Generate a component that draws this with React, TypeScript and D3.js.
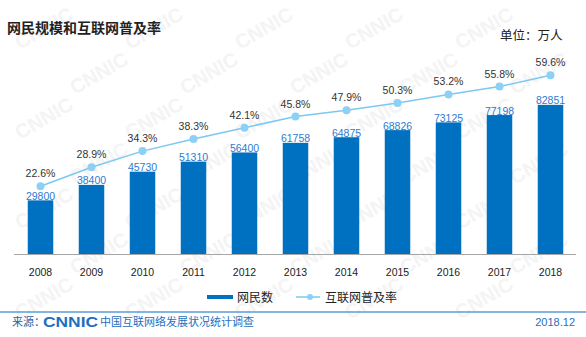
import React from "react";
import * as d3 from "d3";

const years = ["2008", "2009", "2010", "2011", "2012", "2013", "2014", "2015", "2016", "2017", "2018"];
const netizens = [29800, 38400, 45730, 51310, 56400, 61758, 64875, 68826, 73125, 77198, 82851];
const penetration = [22.6, 28.9, 34.3, 38.3, 42.1, 45.8, 47.9, 50.3, 53.2, 55.8, 59.6];

const W = 586;
const H = 337;

export default function App() {
  const x = d3.scaleBand<string>().domain(years).range([15, 576]).paddingInner(0.5).paddingOuter(0.25);
  const yBar = d3.scaleLinear().domain([0, 100000]).range([254, 74]);
  const yPct = d3.scaleLinear().domain([0, 60]).range([254, 74]);
  const cx = (y: string) => (x(y) as number) + x.bandwidth() / 2;
  const line = d3
    .line<number>()
    .x((_, i) => cx(years[i]))
    .y((d) => yPct(d));

  const marks: { x: number; y: number }[] = [];
  for (let r = 0; r < 9; r++) {
    for (let c = -1; c < 7; c++) {
      const mx = c * 110 + (r % 2) * 55 + 20;
      const my = r * 45 + 50;
      if (mx >= 4 && mx + 60 <= 582 && my - 46 >= 2 && my + 6 <= 334) marks.push({ x: mx, y: my });
    }
  }

  const numFont = "Liberation Sans, Arial, sans-serif";
  const cjk = "'Noto Sans CJK SC', sans-serif";

  return (
    <svg width={W} height={H} style={{ position: "absolute", left: 0, top: 0, background: "#fff" }}>
      <rect width={W} height={H} fill="#fff" />
      <g>
        {marks.map((m, i) => (
          <text
            key={i}
            x={m.x}
            y={m.y}
            transform={`rotate(-30 ${m.x} ${m.y})`}
            fontFamily={numFont}
            fontWeight="bold"
            fontSize={20}
            fill="#f4f4f4"
          >
            CNNIC
          </text>
        ))}
      </g>
      <text x={7} y={33} fontFamily={cjk} fontWeight="bold" fontSize={14} fill="#222">
        网民规模和互联网普及率
      </text>
      <text x={500} y={40} fontFamily={cjk} fontSize={12.5} fill="#222">
        单位：万人
      </text>

      {netizens.map((v, i) => (
        <rect key={years[i]} x={x(years[i])} y={yBar(v)} width={x.bandwidth()} height={254 - yBar(v)} fill="#0070c0" />
      ))}
      <line x1={14} x2={576} y1={254.5} y2={254.5} stroke="#a6a6a6" strokeWidth={1} />

      {netizens.map((v, i) => (
        <text
          key={"bl" + i}
          x={cx(years[i])}
          y={yBar(v) - 0.5}
          textAnchor="middle"
          fontFamily={numFont}
          fontSize={10.5}
          fill="#2e7bd0"
        >
          {v}
        </text>
      ))}

      <path d={line(penetration) || ""} fill="none" stroke="#7cc8f0" strokeWidth={1.5} />
      {penetration.map((p, i) => (
        <circle key={"pt" + i} cx={cx(years[i])} cy={yPct(p)} r={4} fill="#8dd0f5" />
      ))}
      {penetration.map((p, i) => (
        <text
          key={"pl" + i}
          x={cx(years[i])}
          y={yPct(p) - 9}
          textAnchor="middle"
          fontFamily={numFont}
          fontSize={10.5}
          fill="#333"
        >
          {p.toFixed(1)}%
        </text>
      ))}

      {years.map((y) => (
        <text key={"yr" + y} x={cx(y)} y={276} textAnchor="middle" fontFamily={numFont} fontSize={10.5} fill="#222">
          {y}
        </text>
      ))}

      <rect x={207} y={295} width={26} height={4} fill="#0070c0" />
      <text x={237} y={302} fontFamily={cjk} fontSize={12} fill="#222">
        网民数
      </text>
      <line x1={296} x2={320} y1={297} y2={297} stroke="#7cc8f0" strokeWidth={1.5} />
      <circle cx={310} cy={297} r={3} fill="#8dd0f5" />
      <text x={325} y={302} fontFamily={cjk} fontSize={12} fill="#222">
        互联网普及率
      </text>

      <line x1={0} x2={586} y1={312} y2={312} stroke="#5b9bd5" strokeWidth={1.5} />
      <text x={12} y={326} fontFamily={cjk} fontSize={11} fill="#1f5fa8">
        来源：
      </text>
      <text
        x={43}
        y={327}
        fontFamily={numFont}
        fontWeight="bold"
        fontSize={15}
        fill="#1f6fc0"
        textLength={55}
        lengthAdjust="spacingAndGlyphs"
      >
        CNNIC
      </text>
      <text x={100} y={326} fontFamily={cjk} fontSize={11} fill="#1f6fc0">
        中国互联网络发展状况统计调查
      </text>
      <text x={575} y={326} textAnchor="end" fontFamily={numFont} fontSize={11} fill="#1f6fc0">
        2018.12
      </text>
    </svg>
  );
}
